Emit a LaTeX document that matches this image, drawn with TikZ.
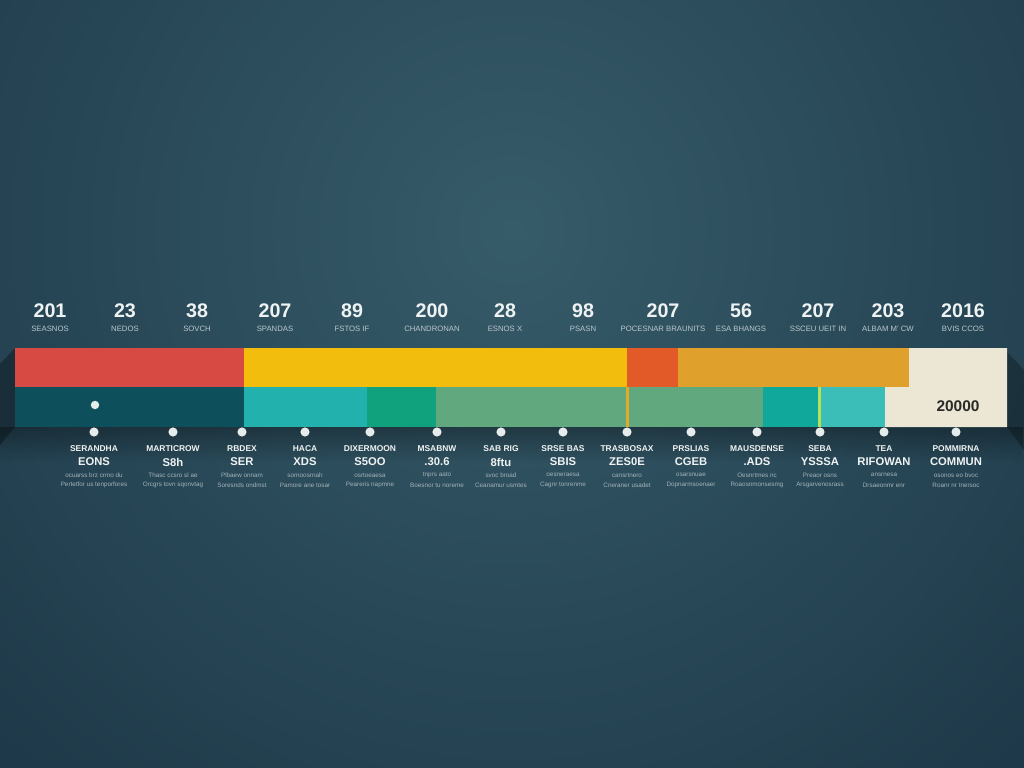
\documentclass[tikz,border=0pt]{standalone}
\usepackage{fontspec}
\setmainfont{Liberation Sans}
\usepackage{tikz}
\usetikzlibrary{positioning,calc,fadings}
\definecolor{bgin}{HTML}{365b69}
\definecolor{bgout}{HTML}{1b3545}
\definecolor{segred}{HTML}{d64a43}
\definecolor{segyellow}{HTML}{f2bd0c}
\definecolor{segorange}{HTML}{e35a29}
\definecolor{segamber}{HTML}{e0a02c}
\definecolor{segcream}{HTML}{ece6d4}
\definecolor{segdeep}{HTML}{0e4f5c}
\definecolor{segcyan}{HTML}{22b1ac}
\definecolor{seggreen}{HTML}{10a27c}
\definecolor{segsage}{HTML}{62a87e}
\definecolor{segteal}{HTML}{10a89a}
\definecolor{segturq}{HTML}{3bbdb8}
\definecolor{ink}{HTML}{2a2a28}
\definecolor{paper}{HTML}{eef2f2}
\definecolor{muted}{HTML}{bcc8cc}
\definecolor{faint}{HTML}{a3b3ba}

\begin{document}
\begin{tikzpicture}[x=0.025cm,y=-0.025cm,
  num/.style={text=paper,font=\fontsize{14}{16}\selectfont\bfseries,inner sep=0pt},
  sub/.style={text=muted,font=\fontsize{5.5}{6}\selectfont,inner sep=0pt},
  lab/.style={text=paper!90,font=\fontsize{6}{7}\selectfont\bfseries,inner sep=0pt},
  val/.style={text=paper!90,font=\fontsize{8}{9}\selectfont\bfseries,inner sep=0pt},
  note/.style={text=faint,font=\fontsize{4.5}{5}\selectfont,inner sep=0pt},
  dot/.style={circle,fill=paper!85!muted,minimum size=6.5pt,inner sep=0pt}]
  % background
  \useasboundingbox (0,0) rectangle (1024,768);
  \fill[bgout] (0,0) rectangle (1024,768);
  \begin{scope}
    \clip (0,0) rectangle (1024,768);
    \shade[inner color=bgin,outer color=bgout] (512,230) circle (820);
  \end{scope}
  % shadow of the bar
  \fill[black,opacity=0.3] (15,348) -- (0,364) -- (0,445) -- (15,427) -- cycle;
  \fill[black,opacity=0.25] (1007,352) -- (1024,370) -- (1024,450) -- (1007,427) -- cycle;
  \fill[black,opacity=0.3,path fading=south] (0,427) rectangle (1024,462);
  % upper band
  \fill[segred] (15,348) rectangle (244,387);
  \fill[segyellow] (244,348) rectangle (627,387);
  \fill[segorange] (627,348) rectangle (678,387);
  \fill[segamber] (678,348) rectangle (909,387);
  % lower band
  \fill[segdeep] (15,387) rectangle (244,427);
  \fill[segcyan] (244,387) rectangle (367,427);
  \fill[seggreen] (367,387) rectangle (436,427);
  \fill[segsage] (436,387) rectangle (763,427);
  \fill[segteal] (763,387) rectangle (818,427);
  \fill[segturq] (818,387) rectangle (885,427);
  \fill[segcream] (909,348) -- (1007,348) -- (1007,427) -- (885,427) -- (885,387) -- (909,387) -- cycle;
  \fill[segamber!90!yellow] (626,387) rectangle (629,427);
  \fill[yellow!60!green!70!white] (818,387) rectangle (821,427);
  \node[dot,minimum size=6pt] (mark) at (95,405) {};
  \node[text=ink,font=\fontsize{11}{12}\selectfont\bfseries] (total) at (958,406) {20000};
  % numbers above the bar
  \foreach \x/\n/\s [count=\i] in {50/201/SEASNOS,125/23/NEDOS,197/38/SOVCH,275/207/SPANDAS,
      352/89/FSTOS IF,432/200/CHANDRONAN,505/28/ESNOS X,583/98/PSASN,663/207/POCESNAR BRAUNITS,
      741/56/ESA BHANGS,818/207/SSCEU UEIT IN,888/203/ALBAM M' CW,963/2016/BVIS CCOS} {
    \node[num] (n\i) at (\x,311) {\n};
    \node[sub] (s\i) at (\x,329) {\s};
  }
  % points below the bar
  \foreach \x/\a/\b/\c/\d [count=\i] in {
      94/SERANDHA/EONS/ocuarss brz crmo du/Pertetfor us tenporfores,
      173/MARTICROW/S8h/Thasc ccsro sl ae/Orcgrs tovn sqonvtag,
      242/RBDEX/SER/Plbaew onnam/Soresnds ondmst,
      305/HACA/XDS/sornoosrnah/Pamore ane tosar,
      370/DIXERMOON/S5OO/osrtoeaesa/Peareris napmne,
      437/MSABNW/.30.6/tnprs aato/Boesnor tu noreme,
      501/SAB RIG/8ftu/svoc broad/Ceanamur usmtes,
      563/SRSE BAS/SBIS/oesneraesa/Cagnr tonrenme,
      627/TRASBOSAX/ZES0E/cansrtnero/Cneraner usadet,
      691/PRSLIAS/CGEB/osarsnuae/Dopnarmsoenaer,
      757/MAUSDENSE/.ADS/Oesnrtmes nc/Roaosnmonsesmg,
      820/SEBA/YSSSA/Preaor osns/Arsgarvenosrass,
      884/TEA/RIFOWAN/ansrnesa/Drsaeonmr enr,
      956/POMMIRNA/COMMUN/osonos eo bvoc/Roanr nr tnersoc} {
    \node[dot] (d\i) at (\x,432) {};
    \node[lab] (a\i) at (\x,449) {\a};
    \node[val] (b\i) at (\x,462) {\b};
    \node[note] (c\i) at (\x,475) {\c};
    \node[note] (e\i) at (\x,485) {\d};
  }
\end{tikzpicture}
\end{document}
